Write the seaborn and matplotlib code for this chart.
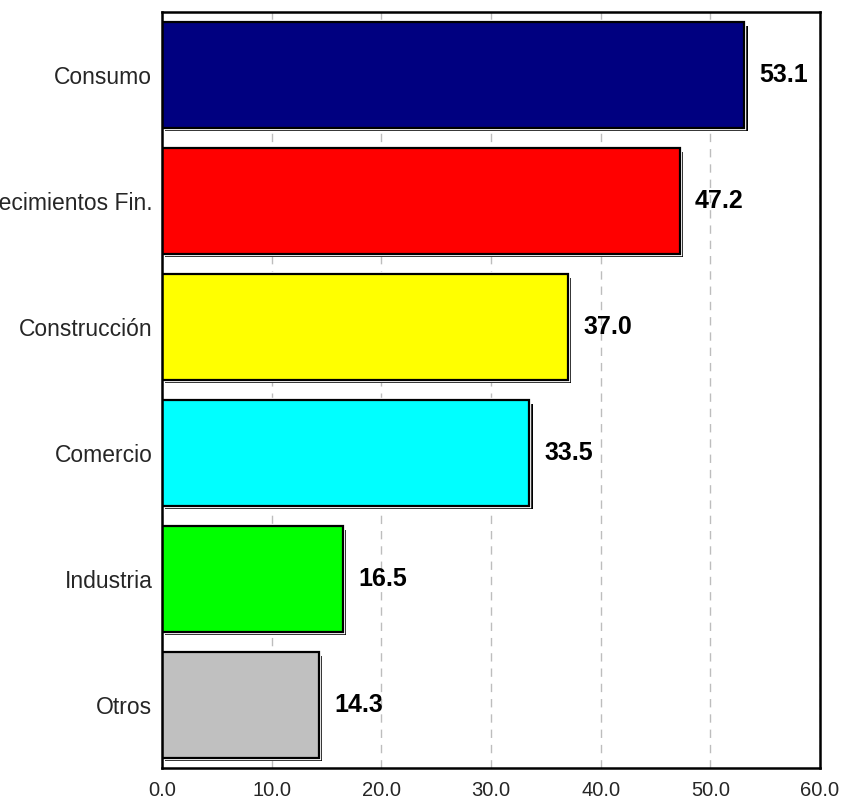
import matplotlib
matplotlib.use("Agg")
import matplotlib.pyplot as plt
import matplotlib.patheffects as pe
import seaborn as sns
import pandas as pd

# Chart data
sectores = ["Consumo", "Establecimientos Fin.", "Construcción", "Comercio", "Industria", "Otros"]
valores = [53.1, 47.2, 37.0, 33.5, 16.5, 14.3]
colores = ["#000080", "#FF0000", "#FFFF00", "#00FFFF", "#00FF00", "#C0C0C0"]
x_ticks = [0, 10, 20, 30, 40, 50, 60]

df = pd.DataFrame({"sector": sectores, "valor": valores})

sns.set_style("white")
plt.rcParams["font.family"] = ["Liberation Sans", "DejaVu Sans"]

fig = plt.figure(figsize=(8.45, 8.01), dpi=100)
ax = fig.add_axes([162 / 845, 1 - 768 / 801, (820 - 162) / 845, (768 - 12) / 801])

sns.barplot(
    data=df, x="valor", y="sector", hue="sector", order=sectores,
    palette=dict(zip(sectores, colores)), legend=False,
    width=0.84, edgecolor="black", linewidth=1.6, saturation=1, ax=ax,
)

# shadow / double border look
for bar in ax.patches:
    bar.set_path_effects([
        pe.SimplePatchShadow(offset=(2.5, -2.5), shadow_rgbFace="black", alpha=1),
        pe.Stroke(linewidth=3.2, foreground="white"),
        pe.Normal(),
    ])

# value labels
for i, v in enumerate(valores):
    ax.annotate(f"{v:.1f}", xy=(v, i), xytext=(11, 0), textcoords="offset points",
                ha="left", va="center", fontsize=18, fontweight="bold", color="black")

ax.set_xlim(0, 60)
ax.set_ylim(len(sectores) - 0.5, -0.5)
ax.set_xticks(x_ticks)
ax.set_xticklabels([f"{t:.1f}" for t in x_ticks])
ax.set_xlabel("")
ax.set_ylabel("")

ax.set_axisbelow(True)
ax.grid(axis="x", color="#BDBDBD", linestyle=(0, (6, 5)), linewidth=1)
ax.grid(axis="y", visible=False)

ax.tick_params(axis="x", length=0, pad=9, labelsize=14.5)
ax.tick_params(axis="y", length=0, pad=7, labelsize=16.5)

for side in ["left", "right", "top", "bottom"]:
    ax.spines[side].set_visible(True)
    ax.spines[side].set_color("black")
    ax.spines[side].set_linewidth(1.8)

fig.savefig("out.png", dpi=100)
plt.close(fig)
